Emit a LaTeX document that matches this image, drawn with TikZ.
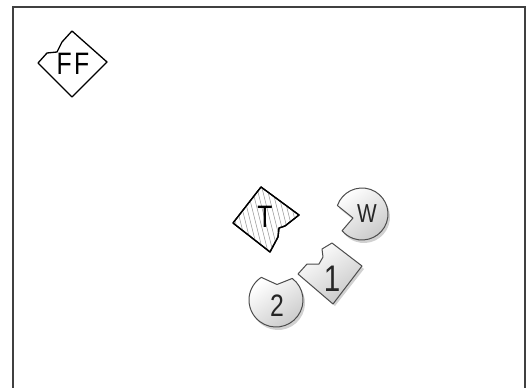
\documentclass[tikz,border=0pt]{standalone}
\usepackage{fontspec}
\setmainfont{Liberation Sans}
\IfFontExistsTF{FiraSans-Light.otf}
  {\newfontfamily\lblfont{FiraSans-Light.otf}}
  {\newfontfamily\lblfont{Liberation Sans}}
\usetikzlibrary{calc}
\tikzset{
  frameline/.style={line width=2pt, draw=black!75},
  plainpiece/.style={draw=black, line width=1.3pt, fill=white, line join=round},
  softpiece/.style={draw=black!70, line width=1pt, top color=white, bottom color=black!22, shading angle=35, line join=round},
  shadowpiece/.style={fill=black, opacity=0.18, draw=none},
  lbl/.style={text=black!85, inner sep=0pt}
}
\newcommand{\piecetext}[2]{{\lblfont\fontsize{#1pt}{#1pt}\selectfont\scalebox{0.8}[1]{#2}}}
\begin{document}
\begin{tikzpicture}[x=1pt,y=-1pt]
\useasboundingbox (0,0) rectangle (531,388);
% frame (open at bottom)
\draw[frameline] (13,388) -- (13,7) -- (525,7) -- (525,388);

% FF piece
\draw[plainpiece] (38,63) -- (47,53) -- (57,52) -- (62,42) -- (72,31) -- (107,62) -- (72,97) -- cycle;
\node[lbl, text=black] (ff) at (73,64) {\piecetext{31}{F\kern3pt F}};

% T piece (hatched)
\def\Tpath{(233,223) -- (261,187) -- (299,215) -- (285,226) -- (279,228) -- (278,237) -- (270,252) -- cycle}
\draw[plainpiece] \Tpath;
\begin{scope}
  \clip \Tpath;
  \foreach \i in {200,205,...,320}
    \draw[black!40, line width=0.6pt] (\i,180) -- (\i+20,260);
\end{scope}
\draw[draw=black, line width=1.3pt, line join=round] \Tpath;
\node[lbl, text=black] (t) at (265,217) {\piecetext{31}{T}};

% W piece
\fill[shadowpiece] (355,221) -- ($(364,217)+(199:26)$) arc[start angle=199, end angle=500, radius=26] -- cycle;
\draw[softpiece] (353,218) -- ($(362,214)+(199:26)$) arc[start angle=199, end angle=500, radius=26] -- cycle;
\node[lbl] (w) at (367,214) {\piecetext{26}{W}};

% 1 piece
\fill[shadowpiece] (300,276) -- (309,266) -- (320,266) -- (325,259) -- (325,251) -- (334,245) -- (364,269) -- (335,306) -- cycle;
\draw[softpiece] (298,274) -- (307,264) -- (319,264) -- (323,257) -- (322,249) -- (332,243) -- (362,266) -- (333,304) -- cycle;
\node[lbl] (one) at (332,279) {\piecetext{37}{1}};

% 2 piece
\fill[shadowpiece] (279,287) -- ($(278,303)+(307:27)$) arc[start angle=307, end angle=597, radius=27] -- cycle;
\draw[softpiece] (277,284.5) -- ($(276,300)+(307:27)$) arc[start angle=307, end angle=597, radius=27] -- cycle;
\node[lbl] (two) at (277,306) {\piecetext{31}{2}};
\end{tikzpicture}
\end{document}
